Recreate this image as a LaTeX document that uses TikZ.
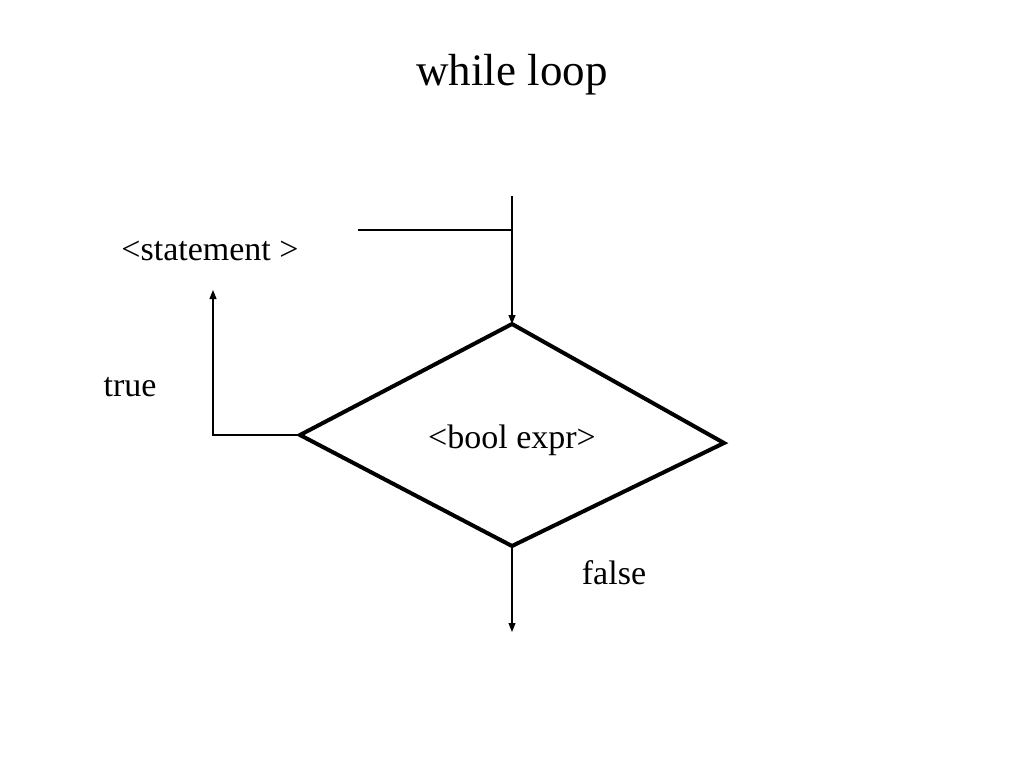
\documentclass[tikz,border=0pt]{standalone}
\usepackage{fontspec}
\setmainfont{Liberation Serif}
\usetikzlibrary{arrows.meta}
\begin{document}
\begin{tikzpicture}[x=1pt,y=-1pt,
  thinline/.style={line width=1.1pt,draw=black},
  arr/.style={thinline,-{Triangle[length=9pt,width=7pt]}},
  lbl/.style={font=\fontsize{34}{40}\selectfont,anchor=base,inner sep=0pt},
  ttl/.style={font=\fontsize{45}{52}\selectfont,anchor=base,inner sep=0pt}]
\useasboundingbox[fill=white] (0,0) rectangle (1024,768);
\node[ttl] (title) at (512,85) {while loop};
\node[lbl] (stmt) at (210,260) {<statement >};
\node[lbl] (true) at (130,396) {true};
\node[lbl] (bool) at (512,448) {<bool expr>};
\node[lbl] (false) at (614,584) {false};
\coordinate (dtop) at (512,324);
\coordinate (dleft) at (300,435);
\coordinate (dright) at (724,443);
\coordinate (dbot) at (512,546);
\coordinate (in) at (512,196);
\coordinate (join) at (512,230);
\coordinate (hstart) at (358,230);
\coordinate (corner) at (213,435);
\coordinate (tend) at (213,290);
\coordinate (fend) at (512,632);
\draw[line width=4pt,line join=miter] (dtop) -- (dright) -- (dbot) -- (dleft) -- cycle;
\draw[arr] (in) -- (dtop);
\draw[thinline] (hstart) -- (join);
\draw[arr] (dleft) -- (corner) -- (tend);
\draw[arr] (dbot) -- (fend);
\end{tikzpicture}
\end{document}
